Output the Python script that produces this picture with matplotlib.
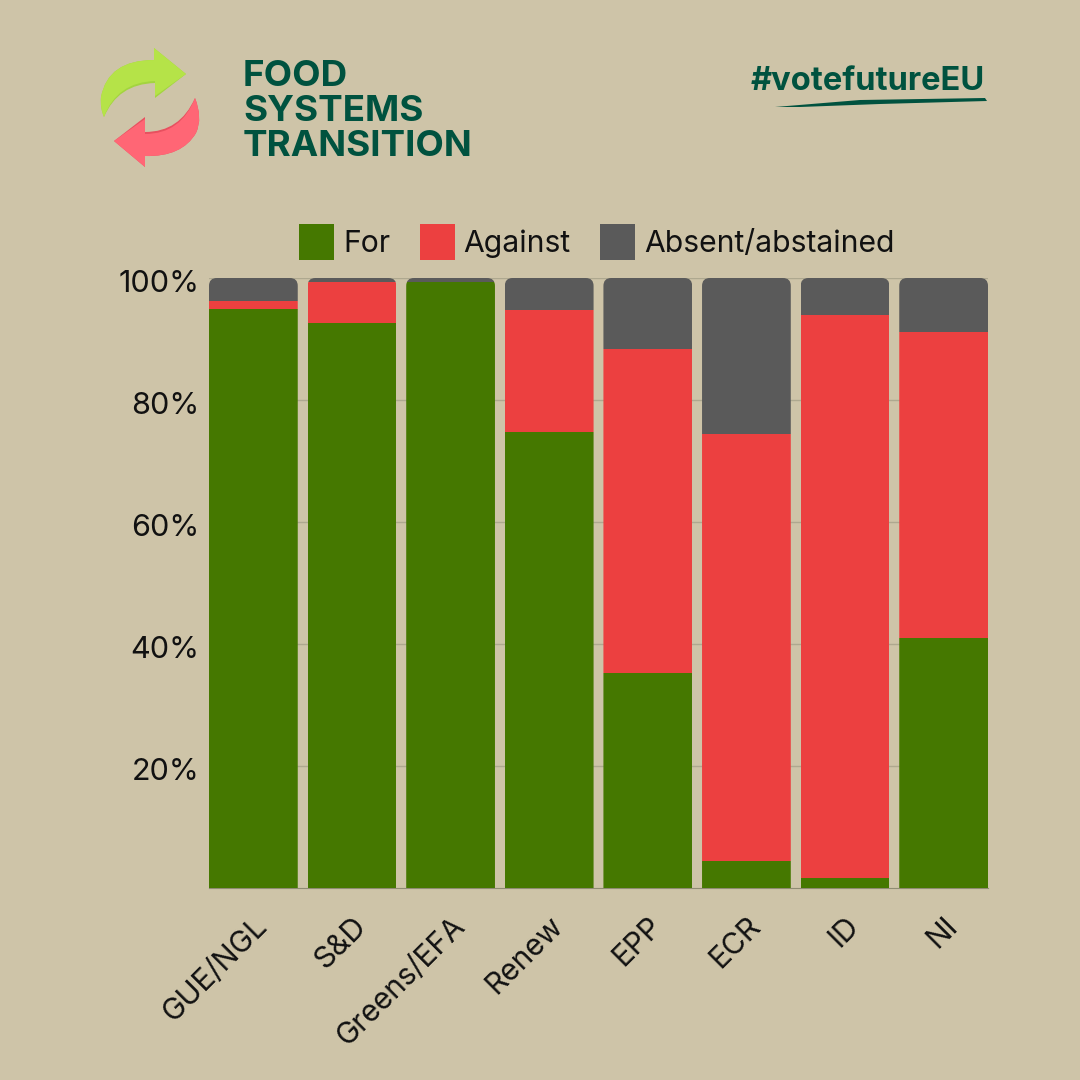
import numpy as np
import matplotlib
matplotlib.use("Agg")
import matplotlib.pyplot as plt
from matplotlib.patches import FancyBboxPatch, PathPatch, Polygon
from matplotlib.path import Path
from matplotlib.transforms import ScaledTranslation

# vote share per group (percent)
groups = ["GUE/NGL", "S&D", "Greens/EFA", "Renew", "EPP", "ECR", "ID", "NI"]
vote_for = [94.9, 92.7, 99.4, 74.8, 35.2, 4.5, 1.7, 41.0]
against = [1.4, 6.6, 0.0, 20.0, 53.1, 69.9, 92.3, 50.1]
absent = [3.7, 0.7, 0.6, 5.2, 11.7, 25.6, 6.0, 8.9]
yticks = [20, 40, 60, 80, 100]

BG = "#cec4a8"
DARK = "#00523f"
GREEN = "#457800"
RED = "#ec4040"
GREY = "#5a5a5a"
GRID = "#aea88f"

plt.rcParams["font.family"] = ["Inter", "DejaVu Sans"]

fig = plt.figure(figsize=(10.8, 10.8), dpi=100, facecolor=BG)

# axes box in pixels: x 209-988, y 278-888
ax = fig.add_axes([209 / 1080, 1 - 888 / 1080, 779 / 1080, 610 / 1080], facecolor=BG)

x = np.arange(len(groups))
vote_for = np.array(vote_for)
against = np.array(against)
absent = np.array(absent)

b1 = ax.bar(x, vote_for, width=0.9, color=GREEN, label="For", zorder=3)
b2 = ax.bar(x, against, width=0.9, bottom=vote_for, color=RED, label="Against", zorder=3)
b3 = ax.bar(x, absent, width=0.9, bottom=vote_for + against, color=GREY,
            label="Absent/abstained", zorder=3)

ax.set_xlim(-0.45, 7.45)
ax.set_ylim(0, 100)

# rounded top corners: clip every column with a rounded box
for i, xi in enumerate(x):
    clip = FancyBboxPatch((xi - 0.45, -20), 0.9, 120,
                          boxstyle="round,pad=0,rounding_size=0.08",
                          mutation_aspect=16, transform=ax.transData,
                          facecolor="none", edgecolor="none")
    for bars in (b1, b2, b3):
        bars[i].set_clip_path(clip)

ax.set_yticks(yticks)
ax.set_yticklabels([f"{t}%" for t in yticks], fontsize=22, color="#111111")
ax.set_xticks(x)
ax.set_xticklabels(groups, rotation=45, ha="right", rotation_mode="anchor",
                   fontsize=21.5, color="#111111")
ax.tick_params(axis="both", length=0)
ax.tick_params(axis="y", pad=7)
ax.tick_params(axis="x", pad=17)
ax.grid(axis="y", color=GRID, linewidth=1, zorder=0)
ax.set_axisbelow(True)
for side in ("top", "right", "left"):
    ax.spines[side].set_visible(False)
ax.spines["bottom"].set_color("#8f8c72")

# y labels sit a little below their gridlines in the original
nudge = ScaledTranslation(0, -3 / 100, fig.dpi_scale_trans)
for label in ax.get_yticklabels():
    label.set_transform(label.get_transform() + nudge)

leg = ax.legend(loc="lower left", bbox_to_anchor=(0.116, 1.03), ncols=3, frameon=False,
                fontsize=21.7, handlelength=1.16, handleheight=1.42,
                handletextpad=0.3, columnspacing=0.97, borderpad=0, borderaxespad=0)
for text in leg.get_texts():
    text.set_color("#111111")

# header drawn in pixel coordinates
head = fig.add_axes([0, 0, 1, 1], facecolor="none")
head.set_xlim(0, 1080)
head.set_ylim(1080, 0)
head.axis("off")

for line, y in zip(["FOOD", "SYSTEMS", "TRANSITION"], [86, 121, 156]):
    head.text(243, y, line, fontsize=26.5, fontweight="bold", color=DARK, va="baseline")
head.text(751, 90, "#votefutureEU", fontsize=23.5, fontweight="bold", color=DARK, va="baseline")

# brush stroke under the hashtag
head.add_patch(Polygon([(775, 107), (860, 100), (985, 98), (987, 101), (880, 104), (800, 107)],
                       closed=True, facecolor=DARK, edgecolor="none"))

# recycling arrows
C3, L, M, Z = Path.CURVE3, Path.LINETO, Path.MOVETO, Path.CLOSEPOLY


def arrow(verts, codes, color):
    head.add_patch(PathPatch(Path(verts, codes), facecolor=color, edgecolor="none"))


arrow([(186, 74), (154, 48), (154, 60), (108, 60), (101, 97), (100, 108), (104, 117),
       (118, 84), (155, 83), (155, 98), (186, 74)],
      [M, L, L, C3, C3, C3, C3, C3, C3, L, Z], "#a3d43f")
arrow([(186, 74), (154, 48), (154, 60), (108, 60), (101, 97), (100, 108), (104, 117),
       (117, 82), (155, 81), (155, 96), (186, 74)],
      [M, L, L, C3, C3, C3, C3, C3, C3, L, Z], "#b5e348")
arrow([(114, 141), (145, 117), (145, 132), (180, 132), (195, 98), (203, 118), (196, 133),
       (182, 157), (145, 156), (145, 167), (114, 141)],
      [M, L, L, C3, C3, C3, C3, C3, C3, L, Z], "#e8505f")
arrow([(114, 141), (145, 119), (145, 134), (181, 134), (195, 98), (203, 118), (196, 133),
       (182, 157), (145, 156), (145, 167), (114, 141)],
      [M, L, L, C3, C3, C3, C3, C3, C3, L, Z], "#ff6675")

fig.savefig("out.png", dpi=100, facecolor=BG)
plt.close(fig)
